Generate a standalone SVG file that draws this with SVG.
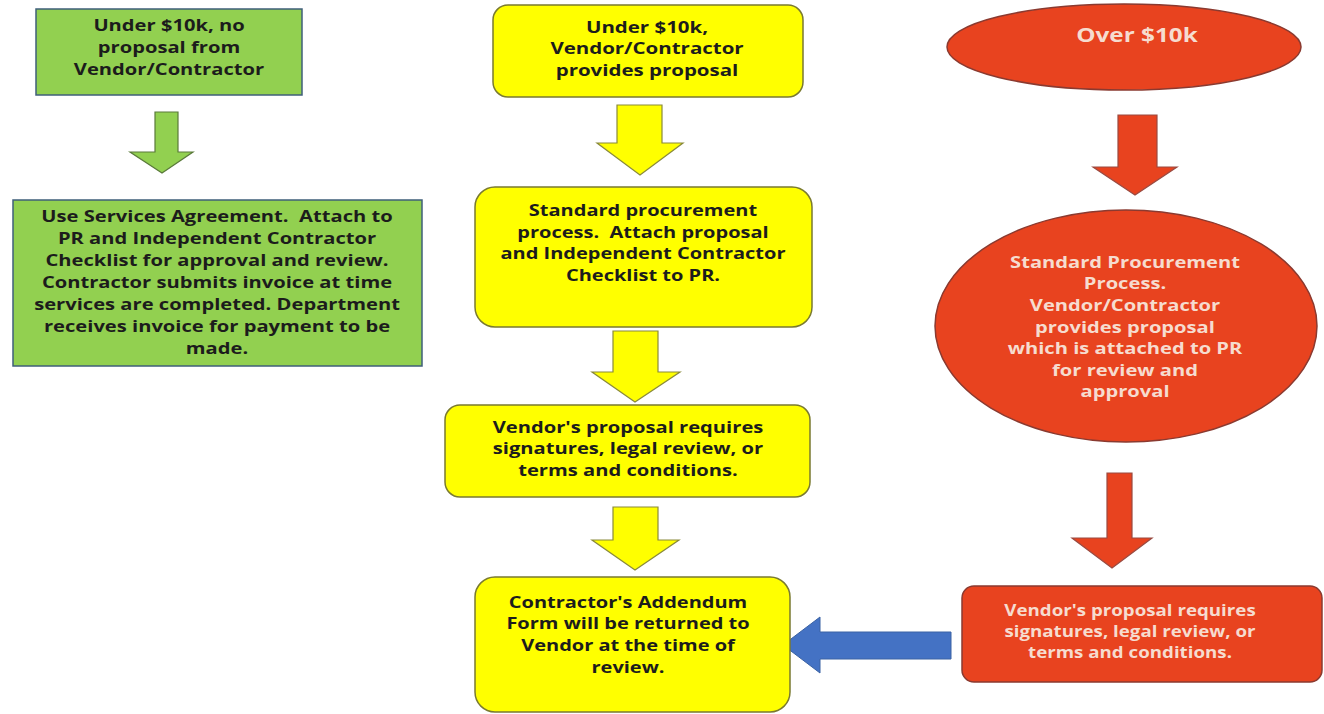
<svg xmlns="http://www.w3.org/2000/svg" width="1324" height="714" viewBox="0 0 1324 714">
<style>
text{font-family:"Open Sans","Liberation Sans",sans-serif;font-weight:bold;font-size:16px;text-anchor:middle;fill:#1c1c1c}
.g{fill:#92d050;stroke:#3f5f7a;stroke-width:1.5}
.y{fill:#ffff00;stroke:#7a7a30;stroke-width:1.5}
.r{fill:#e8431f;stroke:#8a3a30;stroke-width:1.5}
.ya{fill:#ffff00;stroke:#8a8a3a;stroke-width:1.2}
.ga{fill:#92d050;stroke:#5a7a3a;stroke-width:1.2}
.ra{fill:#e8431f;stroke:#9a4a40;stroke-width:1.2}
.ba{fill:#4472c4;stroke:#3a62a4;stroke-width:1}
.w{fill:#f6dccf}
</style>
<rect width="1324" height="714" fill="#ffffff"/>
<g id="connectors">
<polygon class="ga" points="155,112 178,112 178,152 193,152 162,173 130,152 155,152"/>
<polygon class="ya" points="617,105 662,105 662,143 683,143 640,175 597,143 617,143"/>
<polygon class="ya" points="613,331 658,331 658,372 680,372 635,402 592,372 613,372"/>
<polygon class="ya" points="613,507 658,507 658,540 679,540 635,570 592,540 613,540"/>
<polygon class="ra" points="1118,115 1157,115 1157,167 1177,167 1135,195 1093,167 1118,167"/>
<polygon class="ra" points="1107,473 1132,473 1132,538 1152,538 1112,568 1072,538 1107,538"/>
<polygon class="ba" points="783,645 820,617 820,632 951,632 951,659 820,659 820,673"/>
</g>
<g id="n1">
<rect class="g" x="36" y="9" width="266" height="86"/>
<text transform="translate(169,31) scale(1.26,1)">Under $10k, no</text>
<text transform="translate(169,53) scale(1.26,1)">proposal from</text>
<text transform="translate(169,75) scale(1.26,1)">Vendor/Contractor</text>
</g>
<g id="n2">
<rect class="g" x="13" y="200" width="409" height="166"/>
<text xml:space="preserve" transform="translate(217,222) scale(1.26,1)">Use Services Agreement.  Attach to</text>
<text transform="translate(217,244) scale(1.26,1)">PR and Independent Contractor</text>
<text transform="translate(217,266) scale(1.26,1)">Checklist for approval and review.</text>
<text transform="translate(217,288) scale(1.26,1)">Contractor submits invoice at time</text>
<text transform="translate(217,310) scale(1.26,1)">services are completed. Department</text>
<text transform="translate(217,332) scale(1.26,1)">receives invoice for payment to be</text>
<text transform="translate(217,354) scale(1.26,1)">made.</text>
</g>
<g id="n3">
<rect class="y" x="493" y="5" width="310" height="92" rx="15"/>
<text transform="translate(647,33) scale(1.28,1)">Under $10k,</text>
<text transform="translate(647,54) scale(1.28,1)">Vendor/Contractor</text>
<text transform="translate(647,76) scale(1.28,1)">provides proposal</text>
</g>
<g id="n4">
<rect class="y" x="475" y="187" width="337" height="140" rx="20"/>
<text transform="translate(643,216) scale(1.25,1)">Standard procurement</text>
<text xml:space="preserve" transform="translate(643,238) scale(1.25,1)">process.  Attach proposal</text>
<text transform="translate(643,259) scale(1.25,1)">and Independent Contractor</text>
<text transform="translate(643,281) scale(1.25,1)">Checklist to PR.</text>
</g>
<g id="n5">
<rect class="y" x="445" y="405" width="365" height="92" rx="15"/>
<text transform="translate(628,433) scale(1.26,1)">Vendor's proposal requires</text>
<text transform="translate(628,454) scale(1.26,1)">signatures, legal review, or</text>
<text transform="translate(628,476) scale(1.26,1)">terms and conditions.</text>
</g>
<g id="n6">
<rect class="y" x="475" y="577" width="315" height="135" rx="20"/>
<text transform="translate(628,608) scale(1.25,1)">Contractor's Addendum</text>
<text transform="translate(628,629) scale(1.25,1)">Form will be returned to</text>
<text transform="translate(628,651) scale(1.25,1)">Vendor at the time of</text>
<text transform="translate(628,673) scale(1.25,1)">review.</text>
</g>
<g id="n7">
<ellipse class="r" cx="1124" cy="47" rx="177" ry="43"/>
<text class="w" style="font-size:19px" transform="translate(1137,42) scale(1.28,1)">Over $10k</text>
</g>
<g id="n8">
<ellipse class="r" cx="1126" cy="326" rx="191" ry="116"/>
<text class="w" transform="translate(1125,268) scale(1.26,1)">Standard Procurement</text>
<text class="w" transform="translate(1125,289) scale(1.26,1)">Process.</text>
<text class="w" transform="translate(1125,311) scale(1.26,1)">Vendor/Contractor</text>
<text class="w" transform="translate(1125,333) scale(1.26,1)">provides proposal</text>
<text class="w" transform="translate(1125,354) scale(1.26,1)">which is attached to PR</text>
<text class="w" transform="translate(1125,376) scale(1.26,1)">for review and</text>
<text class="w" transform="translate(1125,397) scale(1.26,1)">approval</text>
</g>
<g id="n9">
<rect class="r" x="962" y="586" width="360" height="96" rx="12"/>
<text class="w" transform="translate(1130,616) scale(1.17,1)">Vendor's proposal requires</text>
<text class="w" transform="translate(1130,637) scale(1.17,1)">signatures, legal review, or</text>
<text class="w" transform="translate(1130,658) scale(1.17,1)">terms and conditions.</text>
</g>
</svg>
